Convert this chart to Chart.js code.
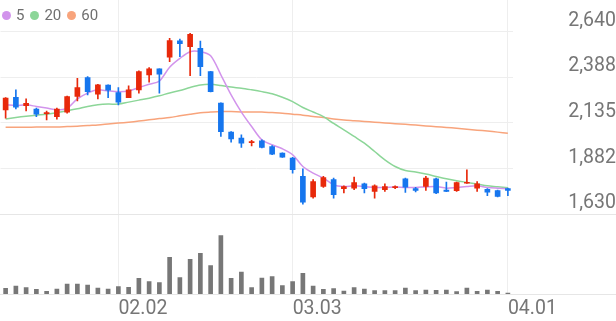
<!DOCTYPE html>
<html>
<head>
<meta charset="utf-8">
<script src="https://cdn.jsdelivr.net/npm/chart.js@4.4.1/dist/chart.umd.min.js"></script>
<style>
  html, body { margin: 0; padding: 0; background: #fff; }
  #wrap { position: relative; width: 616px; height: 321px; }
  #legend { position: absolute; left: 2px; top: 6px; display: flex; align-items: center;
            font: 15px Roboto, sans-serif; line-height: 18px; color: #6f6f6f; }
  #legend .item { display: flex; align-items: center; margin-right: 6px; }
  #legend i { display: inline-block; width: 9px; height: 9px; border-radius: 50%; margin-right: 5px; }
</style>
</head>
<body>
<div id="wrap"><canvas id="chart"></canvas><div id="legend"></div></div>
<script>
const dates = ['01.16','01.19','01.20','01.21','01.22','01.23','01.26','01.27','01.28','01.29','01.30',
  '02.02','02.03','02.04','02.05','02.06','02.09','02.10','02.11','02.12','02.13','02.19','02.20',
  '02.23','02.24','02.25','02.26','02.27',
  '03.03','03.04','03.05','03.06','03.09','03.10','03.11','03.12','03.13','03.16','03.17','03.18',
  '03.19','03.20','03.23','03.24','03.25','03.26','03.27','03.30','03.31','04.01'];
const tickDates = ['02.02', '03.03', '04.01'];

const open  = [2206,2276,2229,2210,2185,2169,2194,2280,2385,2293,2343,2302,2274,2317,2400,2433,2498,2588,2556,2547,
  2418,2243,2083,2050,2024,2035,2003,1967,1939,1838,1724,1783,1820,1770,1773,1797,1755,1764,1776,1825,
  1770,1782,1825,1762,1759,1800,1773,1767,1760,1770];
const high  = [2274,2317,2267,2216,2200,2216,2282,2381,2390,2348,2344,2330,2339,2422,2440,2433,2602,2598,2630,2587,
  2420,2245,2086,2068,2037,2040,2008,1968,1943,1880,1820,1838,1829,1786,1834,1801,1792,1797,1786,1829,
  1777,1838,1829,1806,1806,1874,1810,1770,1762,1774];
const low   = [2160,2212,2200,2169,2150,2155,2188,2256,2289,2267,2274,2234,2274,2298,2359,2298,2473,2500,2396,2396,
  2305,2059,2028,1998,2007,1995,1958,1943,1856,1685,1718,1777,1718,1746,1764,1746,1718,1755,1770,1749,
  1752,1760,1742,1753,1755,1799,1755,1731,1725,1731];
const close = [2271,2221,2242,2182,2189,2210,2280,2330,2307,2344,2315,2249,2317,2418,2433,2403,2590,2572,2624,2445,
  2307,2086,2046,2022,2030,1998,1961,1945,1875,1696,1810,1832,1737,1782,1804,1770,1786,1782,1781,1779,
  1760,1829,1746,1755,1804,1804,1797,1751,1727,1760];
const volume = [57,80,63,47,27,50,100,100,90,60,50,73,67,157,123,113,367,163,347,407,
  283,583,157,220,63,160,173,83,123,207,80,47,53,30,63,50,33,33,33,60,
  33,40,37,40,23,60,27,40,27,10];

const ma5  = [2234,2230,2234,2225,2216,2206,2216,2267,2299,2317,2311,2307,2311,2330,2348,2366,2442,2491,2528,2528,
  2506,2400,2289,2194,2114,2040,2013,1991,1958,1893,1856,1829,1792,1782,1786,1782,1777,1777,1780,1777,
  1777,1780,1782,1773,1777,1782,1786,1777,1773,1770];
const ma20 = [2156,2164,2171,2177,2182,2191,2201,2212,2225,2234,2238,2238,2249,2260,2271,2284,2300,2313,2330,2344,
  2348,2341,2332,2326,2317,2307,2295,2276,2252,2219,2194,2169,2131,2096,2059,2022,1976,1930,1893,1871,
  1862,1851,1838,1825,1814,1805,1796,1786,1781,1775];
const ma60 = [2110,2110,2110,2111,2112,2112,2114,2116,2120,2123,2128,2133,2138,2144,2151,2158,2164,2173,2182,2190,
  2194,2197,2197,2195,2195,2194,2191,2188,2182,2177,2169,2164,2156,2150,2146,2142,2138,2134,2130,2126,
  2122,2117,2113,2109,2104,2099,2094,2089,2083,2077];

const priceTicks = [1630, 1882.5, 2135, 2387.5, 2640];
const priceTickLabels = ['1,630', '1,882', '2,135', '2,388', '2,640'];

const candleColor = close.map((c, i) => c >= open[i] ? '#e8290b' : '#1676ee');
const textColor = '#767676';
const gridColor = '#eeeeee';

// full-width lines under the price pane and under the volume pane
const paneLines = {
  id: 'paneLines',
  beforeDatasetsDraw(chart) {
    const {ctx, width, chartArea} = chart;
    ctx.save();
    ctx.strokeStyle = '#e6e6e6';
    ctx.lineWidth = 1;
    [chart.scales.v.top, chartArea.bottom].forEach(y => {
      const py = Math.round(y) + 0.5;
      ctx.beginPath();
      ctx.moveTo(0, py);
      ctx.lineTo(width, py);
      ctx.stroke();
    });
    ctx.restore();
  }
};

Chart.defaults.font.family = 'Roboto';

const chart = new Chart(document.getElementById('chart'), {
  type: 'bar',
  data: {
    labels: dates,
    datasets: [
      { type: 'bar', label: 'wick', data: low.map((l, i) => [l, high[i]]), backgroundColor: candleColor,
        barThickness: 1, grouped: false, yAxisID: 'y', order: 1 },
      { type: 'bar', label: 'body', data: open.map((o, i) => [o, close[i]]), backgroundColor: candleColor,
        barThickness: 5, minBarLength: 1, grouped: false, yAxisID: 'y', order: 0 },
      { type: 'bar', label: 'volume', data: volume, backgroundColor: '#777777',
        barThickness: 4, grouped: false, yAxisID: 'v', order: 2 },
      { type: 'line', label: '5', data: ma5, borderColor: 'rgb(210,148,236)', borderWidth: 1.5,
        pointRadius: 0, tension: 0.3, yAxisID: 'y', order: 3 },
      { type: 'line', label: '20', data: ma20, borderColor: 'rgb(140,214,152)', borderWidth: 1.5,
        pointRadius: 0, tension: 0.3, yAxisID: 'y', order: 4 },
      { type: 'line', label: '60', data: ma60, borderColor: 'rgb(248,164,124)', borderWidth: 1.5,
        pointRadius: 0, tension: 0.3, yAxisID: 'y', order: 5 }
    ]
  },
  options: {
    responsive: true,
    maintainAspectRatio: false,
    animation: false,
    events: [],
    layout: { padding: { left: 0.5 } },
    plugins: { legend: { display: false }, tooltip: { enabled: false } },
    scales: {
      x: {
        offset: true,
        afterFit: s => { s.height = 27; },
        grid: {
          offset: false, drawTicks: false,
          color: c => tickDates.includes(dates[c.index]) ? gridColor : 'rgba(0,0,0,0)'
        },
        border: { display: false },
        ticks: {
          autoSkip: false, maxRotation: 0, align: 'start', padding: 3,
          color: textColor, font: { size: 19.5 },
          callback: (v, i) => tickDates.includes(dates[i]) ? dates[i] : ''
        }
      },
      y: {
        position: 'right', stack: 'pane', stackWeight: 214,
        min: 1630, max: 2814,
        afterBuildTicks: s => { s.ticks = priceTicks.map(v => ({ value: v })); },
        afterFit: s => { s.width = 103; s.paddingTop = 0; s.paddingBottom = 0; },
        grid: { color: gridColor, drawTicks: false },
        border: { display: false },
        ticks: {
          crossAlign: 'far', padding: 50, labelOffset: -10.5,
          color: textColor, font: { size: 19.5 },
          callback: (v, i) => priceTickLabels[i]
        }
      },
      v: {
        position: 'right', stack: 'pane', stackWeight: 80,
        min: 0, max: 800,
        grid: { display: false },
        border: { display: false },
        ticks: { display: false }
      }
    }
  },
  plugins: [paneLines]
});

const legendEl = document.getElementById('legend');
chart.data.datasets.filter(d => d.type === 'line').forEach(d => {
  const item = document.createElement('span');
  item.className = 'item';
  const dot = document.createElement('i');
  dot.style.background = d.borderColor;
  item.appendChild(dot);
  item.appendChild(document.createTextNode(d.label));
  legendEl.appendChild(item);
});
</script>
</body>
</html>
